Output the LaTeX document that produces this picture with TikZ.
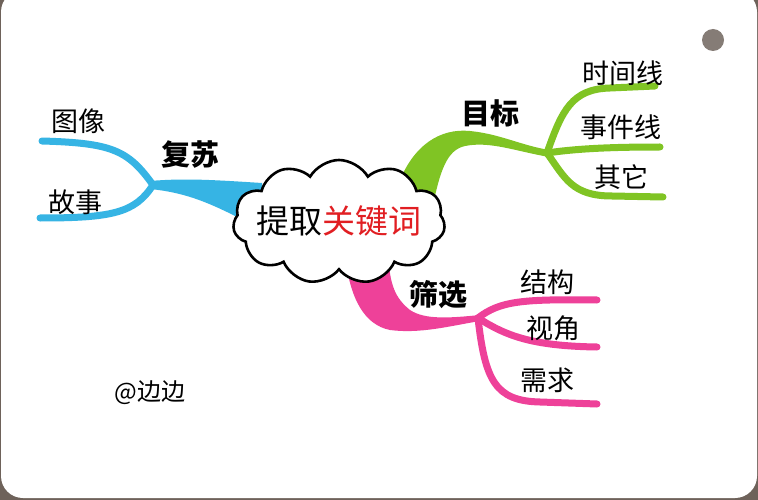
\documentclass[tikz,border=0pt]{standalone}
\usepackage{fontspec}
\newfontfamily\cjk{Noto Sans CJK SC}
\usetikzlibrary{shapes.symbols}
\definecolor{cblue}{HTML}{36B4E4}
\definecolor{cgreen}{HTML}{80C424}
\definecolor{cpink}{HTML}{EE4199}
\definecolor{cred}{HTML}{E11E22}
\definecolor{bgdark}{HTML}{6E625A}
\definecolor{hole}{HTML}{857C76}
\begin{document}
\begin{tikzpicture}[x=1pt,y=-1pt,
  lbl/.style={font=\cjk\fontsize{27}{29}\selectfont, text=black, inner sep=0},
  keylbl/.style={font=\cjk\bfseries\fontsize{29}{31}\selectfont, text=black, inner sep=0},
  twig/.style={line width=7pt, line cap=round}]
\useasboundingbox (0,0) rectangle (758,500);
\fill[bgdark] (0,0) rectangle (758,500);
\fill[white, rounded corners=22pt] (1,-10) rectangle (757,498);
\fill[hole] (713,40) circle[radius=11];

% ---- blue branch
\coordinate (bf) at (153,185);
\coordinate (b1) at (42,141);
\coordinate (b2) at (40,218);
\fill[cblue] (262,183) .. controls (215,180) and (185,178) .. (150,181) -- (150,189)
  .. controls (190,193) and (215,205) .. (262,230) -- cycle;
\draw[twig,cblue] (bf) .. controls (128,150) and (112,143) .. (b1);
\draw[twig,cblue] (bf) .. controls (135,213) and (112,218) .. (b2);
\node[keylbl] (fusu) at (190,155) {复苏};
\node[lbl] (tuxiang) at (78,121) {图像};
\node[lbl] (gushi) at (75,202) {故事};

% ---- green branch
\coordinate (gf) at (547,153);
\coordinate (g1) at (655,86);
\coordinate (g2) at (660,147);
\coordinate (g3) at (663,197);
\fill[cgreen] (398,185) .. controls (413,145) and (440,128) .. (470,131)
  .. controls (500,134) and (520,145) .. (549,150) -- (549,157)
  .. controls (515,151) and (490,141) .. (465,146)
  .. controls (447,150) and (440,170) .. (432,210) -- cycle;
\draw[twig,cgreen] (gf) .. controls (562,110) and (572,89) .. (610,88) -- (g1);
\draw[twig,cgreen] (gf) .. controls (580,148) and (620,147) .. (g2);
\draw[twig,cgreen] (gf) .. controls (565,178) and (572,196) .. (612,196) -- (g3);
\node[keylbl] (mubiao) at (490,113) {目标};
\node[lbl] (shijianxian) at (623,73) {时间线};
\node[lbl] (shijian) at (621,127) {事件线};
\node[lbl] (qita) at (621,177) {其它};

% ---- pink branch
\coordinate (pf) at (478,318);
\coordinate (p1) at (597,300);
\coordinate (p2) at (597,347);
\coordinate (p3) at (597,404);
\fill[cpink] (345,255) .. controls (350,300) and (365,325) .. (390,330)
  .. controls (420,334) and (450,326) .. (480,321) -- (480,315)
  .. controls (450,318) and (425,320) .. (410,310)
  .. controls (395,298) and (390,285) .. (388,255) -- cycle;
\draw[twig,cpink] (pf) .. controls (500,301) and (522,299) .. (p1);
\draw[twig,cpink] (pf) .. controls (505,335) and (530,346) .. (p2);
\draw[twig,cpink] (pf) .. controls (485,380) and (495,401) .. (540,402) -- (p3);
\node[keylbl] (shaixuan) at (438,295) {筛选};
\node[lbl] (jiegou) at (547,282) {结构};
\node[lbl] (shijiao) at (553,328) {视角};
\node[lbl] (xuqiu) at (547,380) {需求};

% ---- central cloud
\node[cloud, cloud puffs=11, cloud puff arc=120, aspect=1.7, draw=black,
  line width=2.6pt, fill=white, minimum width=212pt, minimum height=124pt,
  inner sep=0] (core) at (339,222) {};
\node[font=\cjk\fontsize{33}{35}\selectfont, inner sep=0] (title) at (339,221)
  {提取\textcolor{cred}{关键词}};

% ---- signature
\node[font=\cjk\fontsize{24}{26}\selectfont, inner sep=0] (sig) at (150,393) {@边边};
\end{tikzpicture}
\end{document}
